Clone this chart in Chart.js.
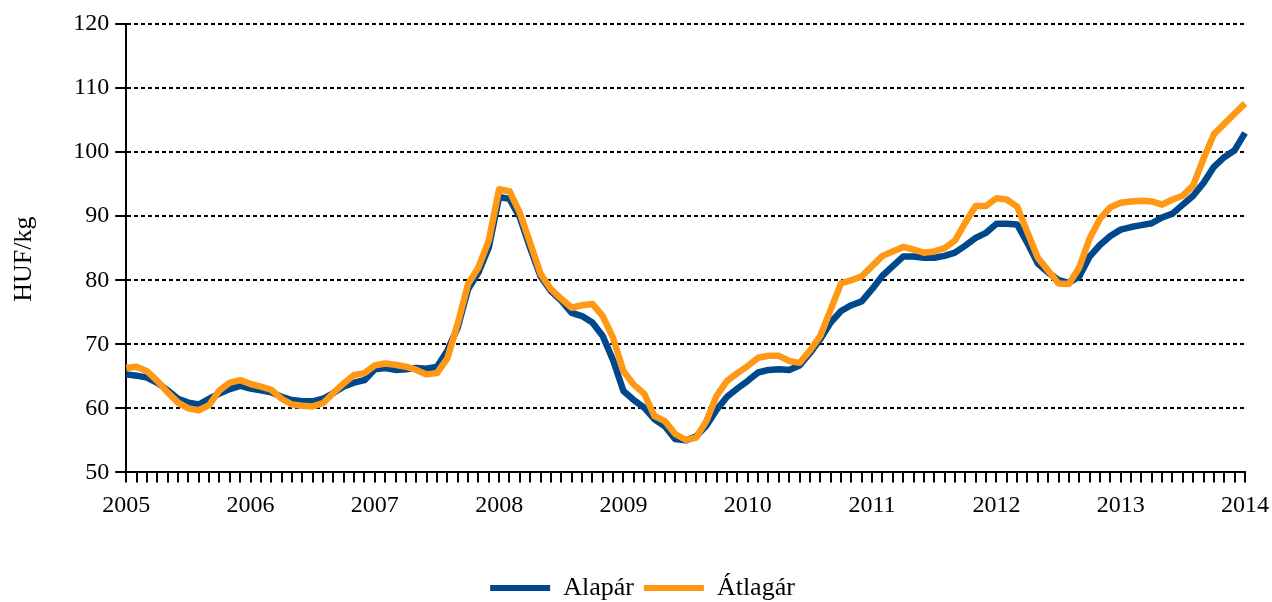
<!DOCTYPE html>
<html>
<head>
<meta charset="utf-8">
<script src="https://cdn.jsdelivr.net/npm/chart.js@4.4.0/dist/chart.umd.min.js"></script>
<style>
  body { margin: 0; background: #fff; }
  #wrap { width: 1272px; height: 602px; }
</style>
</head>
<body>
<div id="wrap"><canvas id="myChart"></canvas></div>
<script>
const years = [2005, 2006, 2007, 2008, 2009, 2010, 2011, 2012, 2013, 2014];

// havi ertekek, 2005 jan - 2014 jan
const alapar = [
  65.3, 65.1, 64.8, 64.0, 62.8, 61.5, 60.9, 60.6, 61.5, 62.3, 63.0, 63.5,
  63.1, 62.8, 62.5, 61.8, 61.3, 61.1, 61.1, 61.5, 62.4, 63.4, 64.0, 64.4,
  66.1, 66.3, 66.0, 66.1, 66.3, 66.2, 66.5, 69.0, 72.6, 78.6, 81.2, 85.1,
  93.0, 92.7, 89.8, 85.0, 80.6, 78.3, 76.8, 74.9, 74.4, 73.4, 71.3, 67.5,
  62.7, 61.3, 60.1, 58.3, 57.2, 55.2, 55.0, 55.6, 57.3, 59.8, 61.8, 63.1,
  64.3, 65.6, 66.0, 66.1, 66.0, 66.7, 68.6, 70.8, 73.4, 75.2, 76.1, 76.7,
  78.6, 80.7, 82.2, 83.7, 83.7, 83.5, 83.5, 83.8, 84.3, 85.4, 86.6, 87.4,
  88.8, 88.8, 88.7, 85.8, 82.6, 81.2, 80.0, 79.6, 80.6, 83.7, 85.5, 86.9,
  87.9, 88.3, 88.6, 88.9, 89.8, 90.4, 91.8, 93.2, 95.2, 97.7, 99.2, 100.3,
  103.0
];

const atlagar = [
  66.3, 66.5, 65.8, 64.3, 62.5, 60.9, 60.0, 59.7, 60.5, 62.8, 64.0, 64.4,
  63.8, 63.4, 62.9, 61.5, 60.6, 60.4, 60.3, 60.8, 62.4, 63.9, 65.2, 65.5,
  66.7, 67.0, 66.8, 66.5, 66.0, 65.3, 65.5, 67.8, 73.2, 79.4, 82.0, 86.2,
  94.2, 93.9, 90.5, 85.8, 81.0, 78.6, 77.1, 75.7, 76.1, 76.3, 74.4, 71.0,
  65.8, 63.7, 62.3, 58.8, 58.0, 56.0, 55.1, 55.4, 58.0, 62.0, 64.3, 65.5,
  66.6, 67.9, 68.2, 68.2, 67.4, 67.1, 69.0, 71.3, 75.4, 79.5, 80.0, 80.6,
  82.2, 83.8, 84.5, 85.2, 84.8, 84.3, 84.5, 85.0, 86.2, 89.0, 91.6, 91.6,
  92.8, 92.6, 91.5, 87.5, 83.5, 81.5, 79.5, 79.4, 82.0, 86.5, 89.6, 91.4,
  92.1, 92.3, 92.4, 92.3, 91.8, 92.6, 93.2, 94.8, 99.0, 102.8, 104.4, 106.0,
  107.6
];

// honap cimkek az evekbol
const honapok = [];
years.forEach((ev, i) => {
  const n = i === years.length - 1 ? 1 : 12;
  for (let m = 1; m <= n; m++) {
    honapok.push(ev + "-" + String(m).padStart(2, "0"));
  }
});

const KEK = "#00488c";
const NARANCS = "#ff9915";
const betu = "Liberation Serif";

const myChart = new Chart("myChart", {
  type: "line",
  data: {
    labels: honapok,
    datasets: [
      {
        label: "Alapár",
        data: alapar,
        borderColor: KEK,
        backgroundColor: KEK,
        borderWidth: 6.5,
        pointRadius: 0,
        tension: 0,
        borderJoinStyle: "round",
        order: 1,
      },
      {
        label: "Átlagár",
        data: atlagar,
        borderColor: NARANCS,
        backgroundColor: NARANCS,
        borderWidth: 6.5,
        pointRadius: 0,
        tension: 0,
        borderJoinStyle: "round",
        order: 0,
      },
    ],
  },
  options: {
    responsive: true,
    maintainAspectRatio: false,
    animation: false,
    layout: { padding: { top: 24, right: 27, left: 0, bottom: 0 } },
    plugins: {
      tooltip: { enabled: false },
      legend: {
        position: "bottom",
        labels: {
          font: { family: betu, size: 26 },
          color: "#000",
          boxWidth: 60,
          boxHeight: 6,
          padding: 10,
          sort: (a, b) => a.datasetIndex - b.datasetIndex,
          generateLabels: (chart) => {
            const items = Chart.defaults.plugins.legend.labels.generateLabels(chart);
            items.forEach((it) => {
              it.fillStyle = it.strokeStyle;
              it.lineWidth = 0;
            });
            return items;
          },
        },
      },
    },
    scales: {
      x: {
        type: "category",
        afterFit: (scale) => {
          scale.paddingLeft = 0;
          scale.paddingRight = 0;
        },
        border: { color: "#000", width: 2 },
        grid: {
          drawOnChartArea: false,
          drawTicks: true,
          tickLength: 10,
          color: "#000",
          lineWidth: 2,
        },
        ticks: {
          autoSkip: false,
          maxRotation: 0,
          minRotation: 0,
          padding: 9,
          color: "#000",
          font: { family: betu, size: 24 },
          callback: function (val) {
            const l = this.getLabelForValue(val);
            return l.endsWith("-01") ? l.slice(0, 4) : "";
          },
        },
        title: {
          display: true,
          text: " ",
          font: { family: betu, size: 24 },
          padding: { top: 0, bottom: 7 },
        },
      },
      y: {
        min: 50,
        max: 120,
        border: { color: "#000", width: 2, dash: [4, 3] },
        grid: {
          color: "#000",
          lineWidth: 2,
          tickLength: 11,
          tickBorderDash: [],
        },
        ticks: {
          stepSize: 10,
          padding: 6,
          color: "#000",
          font: { family: betu, size: 24 },
        },
        title: {
          display: true,
          text: "HUF/kg",
          color: "#000",
          font: { family: betu, size: 26 },
          padding: { top: 9, bottom: 27 },
        },
      },
    },
  },
});

// a jelmagyarazat kicsit lejjebb es jobbra
const lg = myChart.legend;
const eredetiFit = lg.fit;
lg.fit = function () {
  eredetiFit.call(this);
  this.height -= 9;
};
const eredetiDraw = lg.draw;
lg.draw = function () {
  this.ctx.save();
  this.ctx.translate(20, 0);
  eredetiDraw.call(this);
  this.ctx.restore();
};

// tengelycim kicsit lejjebb
const yTengely = myChart.scales.y;
const eredetiCim = yTengely.drawTitle;
yTengely.drawTitle = function () {
  this.ctx.save();
  this.ctx.translate(0, 11);
  eredetiCim.call(this);
  this.ctx.restore();
};
myChart.update();
</script>
</body>
</html>
